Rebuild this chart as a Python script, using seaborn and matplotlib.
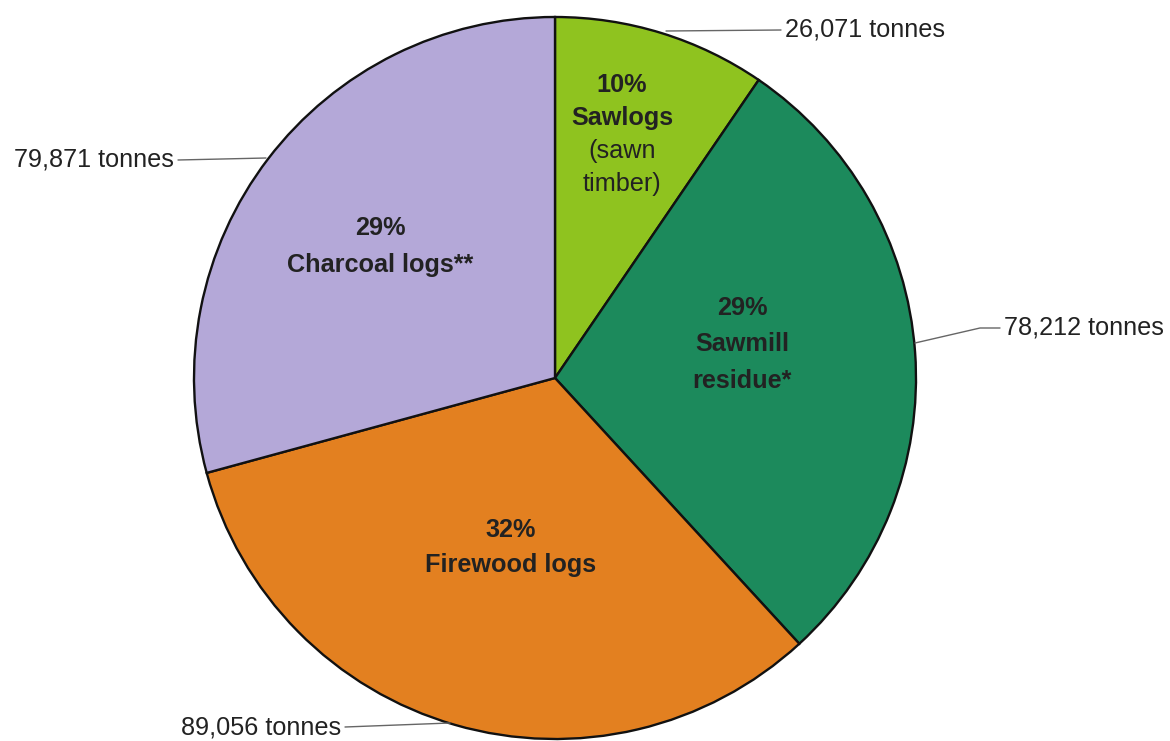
import matplotlib
matplotlib.use("Agg")
import matplotlib.pyplot as plt
import seaborn as sns

sns.set_theme(style="white")
plt.rcParams['font.family'] = ['Liberation Sans', 'DejaVu Sans']

categories = ["Sawlogs", "Sawmill residue", "Firewood logs", "Charcoal logs"]
tonnes = [26071, 78212, 89056, 79871]
pct_labels = ["10%", "29%", "32%", "29%"]
tonne_labels = ["26,071 tonnes", "78,212 tonnes", "89,056 tonnes", "79,871 tonnes"]
colors = ["#8fc31f", "#1c8a5c", "#e38020", "#b4a8d8"]

W, H = 1170, 741
fig = plt.figure(figsize=(11.7, 7.41), dpi=100)
ax = fig.add_axes([0, 0, 1, 1])

def Y(y):
    return H - y

cx, cy, r = 555, 378, 361
ax.pie(tonnes, colors=colors, startangle=90, counterclock=False,
       center=(cx, Y(cy)), radius=r,
       wedgeprops=dict(edgecolor="#111111", linewidth=1.7))
ax.set_xlim(0, W)
ax.set_ylim(0, H)
ax.set_aspect('equal')
ax.axis('off')

tc = "#222222"
fs = 18.2
def t(x, y, s, bold=False, ha='center', size=fs):
    ax.text(x, Y(y), s, ha=ha, va='center', fontsize=size,
            fontweight='bold' if bold else 'normal', color=tc)

t(622, 85, pct_labels[0], True)
t(622, 118, "Sawlogs", True)
t(622, 151, "(sawn")
t(622, 184, "timber)")

t(742, 308, pct_labels[1], True)
t(742, 344, "Sawmill", True)
t(742, 381, "residue*", True)

t(511, 530, pct_labels[2], True)
t(511, 565, "Firewood logs", True)

t(380, 228, pct_labels[3], True)
t(380, 265, "Charcoal logs**", True)

lc = "#666666"
def line(xs, ys):
    ax.plot(xs, [Y(v) for v in ys], color=lc, lw=1)

line([666, 781], [31, 30])
t(785, 29, tonne_labels[0], ha='left')

line([915, 980, 1000], [343, 328, 328])
t(1004, 328, tonne_labels[1], ha='left')

line([345, 450], [727, 723])
t(341, 727, tonne_labels[2], ha='right')

line([178, 266], [160, 158])
t(174, 160, tonne_labels[3], ha='right')

fig.savefig("out.png", dpi=100)
